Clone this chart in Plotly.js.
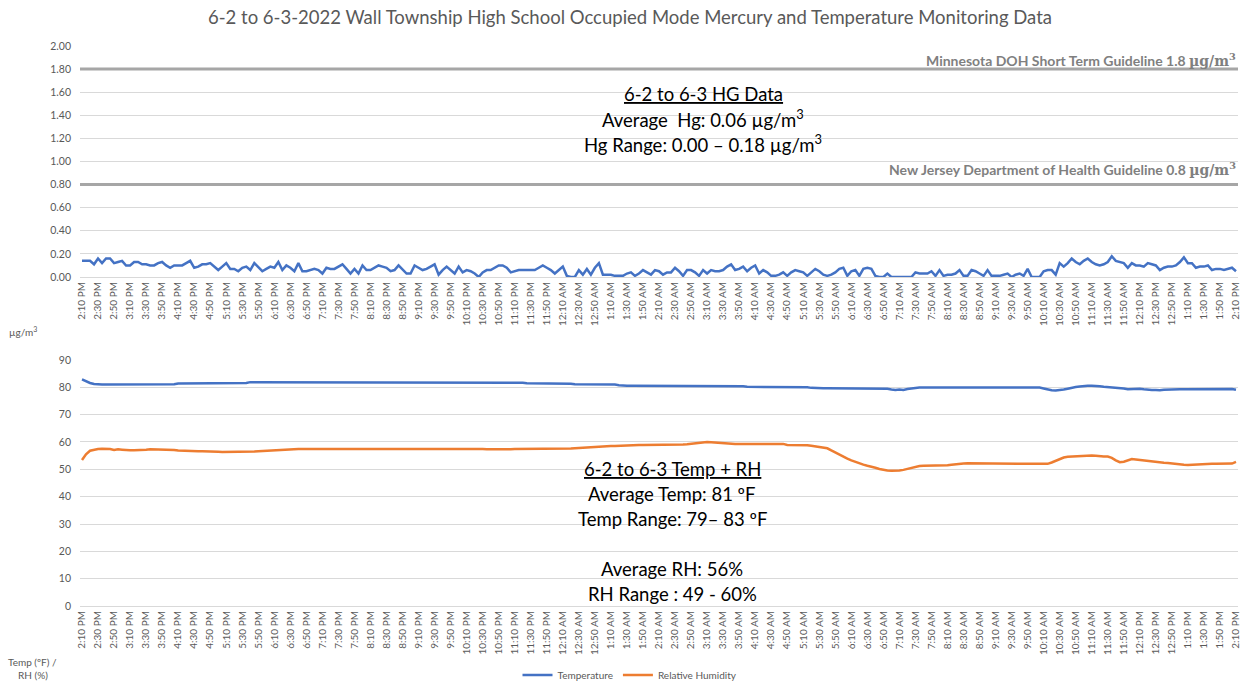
<!DOCTYPE html>
<html>
<head>
<meta charset="utf-8">
<script src="https://cdn.plot.ly/plotly-3.0.1.min.js"></script>
<style>html,body{margin:0;padding:0;background:#fff;}#chart{width:1243px;height:683px;}</style>
</head>
<body>
<div id="chart"></div>
<script>
// ---- Data (5-minute readings, 2:10 PM 6-2 to 2:10 PM 6-3) ----
const startMinutes = 14 * 60 + 10;   // 2:10 PM
const stepMinutes = 5;               // reading interval
const labelEvery = 4;                // a tick label every 20 minutes

const hg = [
  0.14,0.14,0.14,0.11,0.16,0.12,0.16,0.16,0.12,0.13,0.14,0.10,
  0.10,0.13,0.13,0.11,0.11,0.10,0.10,0.12,0.13,0.10,0.08,0.10,
  0.10,0.10,0.12,0.14,0.08,0.09,0.11,0.11,0.12,0.09,0.06,0.09,
  0.12,0.07,0.07,0.05,0.08,0.09,0.06,0.12,0.08,0.05,0.07,0.09,
  0.08,0.13,0.06,0.10,0.08,0.05,0.12,0.05,0.05,0.06,0.07,0.06,
  0.03,0.08,0.07,0.07,0.09,0.11,0.07,0.03,0.07,0.03,0.10,0.06,
  0.06,0.08,0.10,0.09,0.08,0.05,0.06,0.10,0.06,0.03,0.03,0.10,
  0.08,0.06,0.07,0.09,0.11,0.02,0.06,0.09,0.06,0.03,0.09,0.04,
  0.06,0.05,0.03,0.00,0.04,0.06,0.06,0.08,0.10,0.10,0.08,0.04,
  0.05,0.06,0.06,0.06,0.06,0.06,0.08,0.10,0.08,0.06,0.03,0.06,
  0.09,0.01,0.00,0.00,0.06,0.02,0.07,0.02,0.08,0.12,0.02,0.02,
  0.02,0.01,0.01,0.01,0.03,0.04,0.01,0.03,0.06,0.04,0.02,0.06,
  0.05,0.02,0.04,0.04,0.08,0.05,0.01,0.06,0.06,0.04,0.01,0.06,
  0.03,0.06,0.05,0.05,0.06,0.09,0.11,0.06,0.07,0.09,0.05,0.08,
  0.10,0.03,0.06,0.04,0.01,0.01,0.02,0.04,0.01,0.04,0.06,0.05,
  0.04,0.01,0.04,0.07,0.05,0.02,0.01,0.02,0.04,0.07,0.08,0.01,
  0.05,0.06,0.01,0.07,0.08,0.07,0.01,0.00,0.00,0.03,0.00,0.00,
  0.00,0.00,0.00,0.00,0.04,0.03,0.03,0.03,0.05,0.01,0.06,0.01,
  0.02,0.02,0.03,0.06,0.01,0.01,0.06,0.05,0.03,0.01,0.06,0.01,
  0.01,0.01,0.02,0.03,0.00,0.02,0.03,0.01,0.07,0.00,0.00,0.00,
  0.05,0.06,0.06,0.02,0.12,0.09,0.12,0.16,0.13,0.11,0.14,0.16,
  0.13,0.11,0.10,0.11,0.13,0.18,0.14,0.13,0.12,0.08,0.12,0.10,
  0.10,0.09,0.12,0.11,0.10,0.06,0.08,0.09,0.09,0.10,0.13,0.17,
  0.12,0.12,0.08,0.09,0.09,0.10,0.06,0.07,0.07,0.06,0.07,0.08,
  0.05
];

const temperature = [
  82.9,82.2,81.6,81.2,81.0,81.0,81.0,81.0,81.0,81.0,81.0,81.0,
  81.0,81.0,81.0,81.0,81.0,81.0,81.0,81.0,81.0,81.0,81.0,81.1,
  81.4,81.4,81.4,81.4,81.4,81.4,81.4,81.4,81.4,81.4,81.4,81.4,
  81.4,81.4,81.4,81.4,81.4,81.6,81.9,81.9,81.9,81.9,81.9,81.9,
  81.9,81.9,81.9,81.9,81.9,81.9,81.9,81.9,81.9,81.9,81.9,81.9,
  81.9,81.9,81.9,81.9,81.9,81.9,81.9,81.9,81.9,81.9,81.9,81.9,
  81.9,81.9,81.9,81.9,81.9,81.9,81.9,81.9,81.9,81.9,81.9,81.9,
  81.9,81.9,81.9,81.9,81.9,81.9,81.9,81.9,81.9,81.9,81.9,81.9,
  81.9,81.9,81.9,81.9,81.9,81.9,81.9,81.9,81.9,81.9,81.9,81.9,
  81.9,81.9,81.7,81.5,81.5,81.5,81.5,81.5,81.5,81.5,81.5,81.5,
  81.5,81.5,81.3,81.1,81.1,81.1,81.1,81.1,81.1,81.1,81.1,81.1,
  81.1,81.0,80.8,80.6,80.6,80.6,80.6,80.6,80.6,80.6,80.6,80.6,
  80.6,80.6,80.6,80.6,80.6,80.6,80.6,80.6,80.6,80.6,80.6,80.6,
  80.6,80.6,80.6,80.6,80.6,80.6,80.6,80.6,80.6,80.4,80.2,80.2,
  80.2,80.2,80.2,80.2,80.2,80.2,80.2,80.2,80.2,80.2,80.2,80.2,
  80.2,80.0,79.8,79.7,79.7,79.7,79.7,79.7,79.7,79.7,79.7,79.7,
  79.7,79.7,79.7,79.7,79.7,79.7,79.7,79.7,79.7,79.5,79.2,79.0,
  79.2,79.0,79.4,79.6,79.9,79.9,79.9,79.9,79.9,80.0,80.1,80.0,
  79.9,79.9,79.9,79.9,79.9,79.9,79.9,79.9,79.9,79.9,79.9,79.9,
  79.9,79.9,79.9,79.9,79.9,79.9,79.9,79.9,79.9,79.9,79.9,79.9,
  79.6,79.2,78.9,78.8,78.9,79.2,79.5,79.9,80.1,80.3,80.5,80.6,
  80.6,80.6,80.4,80.2,80.1,80.0,79.9,79.9,79.6,79.3,79.4,79.5,
  79.5,79.3,79.1,79.0,79.0,78.9,79.1,79.2,79.25,79.25,79.25,79.25,
  79.25,79.3,79.4,79.5,79.5,79.5,79.5,79.5,79.5,79.5,79.5,79.4,
  79.1
];

const humidity = [
  53.4,55.5,56.8,57.2,57.4,57.5,57.5,57.4,57.1,57.3,57.2,57.0,
  57.0,57.0,57.0,57.1,57.2,57.3,57.3,57.3,57.3,57.3,57.2,57.1,
  56.9,56.8,56.7,56.6,56.6,56.6,56.6,56.6,56.6,56.5,56.4,56.3,
  56.3,56.3,56.3,56.3,56.3,56.4,56.5,56.5,56.6,56.7,56.7,56.7,
  56.8,56.9,57.0,57.1,57.2,57.3,57.4,57.4,57.4,57.4,57.4,57.4,
  57.4,57.4,57.4,57.4,57.4,57.4,57.4,57.4,57.4,57.4,57.4,57.4,
  57.4,57.4,57.4,57.4,57.4,57.4,57.4,57.4,57.4,57.4,57.4,57.4,
  57.4,57.4,57.4,57.4,57.4,57.4,57.4,57.4,57.4,57.4,57.4,57.4,
  57.5,57.6,57.5,57.4,57.4,57.3,57.3,57.2,57.1,57.1,57.2,57.3,
  57.4,57.4,57.4,57.4,57.4,57.4,57.4,57.4,57.4,57.4,57.4,57.4,
  57.4,57.5,57.6,57.7,57.8,57.9,58.0,58.1,58.3,58.4,58.5,58.5,
  58.5,58.5,58.6,58.7,58.8,58.9,58.9,58.9,58.9,58.9,58.9,58.9,
  58.9,58.9,58.9,58.9,59.0,59.0,59.1,59.2,59.4,59.6,59.8,60.0,
  60.0,59.9,59.8,59.6,59.4,59.3,59.3,59.3,59.3,59.3,59.3,59.3,
  59.3,59.3,59.3,59.3,59.3,59.3,59.3,59.3,58.9,58.9,58.9,58.9,
  58.9,58.8,58.6,58.4,58.3,58.1,57.7,56.9,56.1,55.3,54.6,53.9,
  53.3,52.7,52.1,51.7,51.3,51.0,50.6,50.1,49.8,49.6,49.5,49.5,
  49.6,49.8,50.2,50.6,51.0,51.2,51.3,51.3,51.3,51.3,51.3,51.3,
  51.5,51.7,51.9,52.0,52.1,52.2,52.2,52.2,52.2,52.2,52.2,52.1,
  52.0,52.0,52.0,52.0,52.0,52.0,52.0,52.0,52.0,52.0,52.0,52.0,
  52.0,52.0,52.5,53.1,53.7,54.3,54.6,54.7,54.8,54.9,55.0,55.2,
  55.1,55.0,54.8,54.7,54.7,54.2,53.3,52.6,52.8,53.3,53.8,53.6,
  53.4,53.2,53.0,52.9,52.7,52.5,52.4,52.3,52.1,51.9,51.8,51.7,
  51.6,51.7,51.8,51.9,52.0,52.0,52.0,52.0,52.0,52.0,52.0,52.1,
  52.7
];

const guidelineMN = 1.8;
const guidelineNJ = 0.8;

// ---- Category positions and tick labels ----
function timeLabel(mins) {
  const t = ((mins % 1440) + 1440) % 1440;
  let h = Math.floor(t / 60), m = t % 60;
  const ap = h >= 12 ? "PM" : "AM";
  h = h % 12; if (h === 0) h = 12;
  return h + ":" + String(m).padStart(2, "0") + " " + ap;
}
const xIndex = hg.map((_, i) => i);
const tickVals = xIndex.filter(i => i % labelEvery === 0);
const tickLabels = tickVals.map(i => timeLabel(startMinutes + i * stepMinutes));

const BLUE = "#4472C4", ORANGE = "#ED7D31", GRID = "#d9d9d9", TXT = "#595959";
const FONT = "Lato, 'Open Sans', sans-serif";

const traces = [
  {x: xIndex, y: hg, type: "scatter", mode: "lines", name: "Hg",
   line: {color: BLUE, width: 2.5}, xaxis: "x", yaxis: "y", showlegend: false, hoverinfo: "skip"},
  {x: xIndex, y: temperature, type: "scatter", mode: "lines", name: "Temperature",
   line: {color: BLUE, width: 2.5}, xaxis: "x2", yaxis: "y2", hoverinfo: "skip"},
  {x: xIndex, y: humidity, type: "scatter", mode: "lines", name: "Relative Humidity",
   line: {color: ORANGE, width: 2.5}, xaxis: "x2", yaxis: "y2", hoverinfo: "skip"}
];

const xCommon = {
  range: [-0.5, xIndex.length - 0.5], tickmode: "array", tickvals: tickVals, ticktext: tickLabels,
  tickangle: -90, tickfont: {family: FONT, size: 10, color: TXT}, showgrid: false, automargin: false,
  zeroline: false, showline: true, linecolor: GRID, linewidth: 1, ticks: "", fixedrange: true
};
const yCommon = {
  showgrid: true, gridcolor: GRID, gridwidth: 1, zeroline: false, showline: false, ticks: "", automargin: false,
  tickfont: {family: FONT, size: 10.5, color: TXT}, ticklabelstandoff: 8, fixedrange: true
};

function pxX(px) { return (px - 80) / 1158; }
function pxY(py) { return (606 - py) / 560; }

const centerFont = {family: FONT, size: 18.5, color: "#000"};
const guideFont = {family: FONT, size: 14, color: "#7f7f7f"};
const unitSpan = s => "<span style=\"font-family:'DejaVu Serif','Liberation Serif',serif;\">" + s + "</span>";

function ann(px, py, text, font, xanchor) {
  return {xref: "paper", yref: "paper", x: pxX(px), y: pxY(py), xanchor: xanchor || "center",
          yanchor: "middle", showarrow: false, text: text, font: font};
}
const smallFont = {family: FONT, size: 10, color: TXT};

const annotations = [
  ann(1238, 60, "<b>Minnesota DOH Short Term Guideline " + guidelineMN + " " + unitSpan("µg/m<sup>3</sup>") + "</b>", guideFont, "right"),
  ann(1238, 169, "<b>New Jersey Department of Health Guideline " + guidelineNJ + " " + unitSpan("µg/m<sup>3</sup>") + "</b>", guideFont, "right"),

  ann(703, 94, "<u>6-2 to 6-3 HG Data</u>", centerFont),
  ann(703, 119, "Average  Hg: 0.06 µg/m<sup>3</sup>", centerFont),
  ann(703, 143, "Hg Range: 0.00 – 0.18 µg/m<sup>3</sup>", centerFont),

  ann(672, 469, "<u>6-2 to 6-3 Temp + RH</u>", centerFont),
  ann(672, 494, "Average Temp: 81 ºF", centerFont),
  ann(672, 519, "Temp Range: 79– 83 ºF", centerFont),
  ann(672, 569, "Average RH: 56%", centerFont),
  ann(672, 594, "RH Range : 49 - 60%", centerFont),

  ann(23, 331, "µg/m<sup>3</sup>", smallFont),
  ann(33, 662, "Temp (ºF) /", smallFont),
  ann(33, 675, "RH (%)", smallFont)
];

const shapes = [
  {type: "line", xref: "x domain", x0: 0, x1: 1, yref: "y", y0: guidelineMN, y1: guidelineMN,
   line: {color: "#a6a6a6", width: 3}},
  {type: "line", xref: "x domain", x0: 0, x1: 1, yref: "y", y0: guidelineNJ, y1: guidelineNJ,
   line: {color: "#a6a6a6", width: 3}}
];

const layout = {
  width: 1243, height: 683,
  margin: {l: 80, r: 5, t: 46, b: 77, autoexpand: false},
  paper_bgcolor: "#fff", plot_bgcolor: "#fff",
  title: {text: "6-2 to 6-3-2022 Wall Township High School Occupied Mode Mercury and Temperature Monitoring Data",
          font: {family: FONT, size: 18.5, color: TXT}, x: 630 / 1243, xanchor: "center",
          yref: "container", y: 1 - 18 / 683, yanchor: "middle"},
  xaxis: Object.assign({}, xCommon, {anchor: "y", domain: [0, 1]}),
  xaxis2: Object.assign({}, xCommon, {anchor: "y2", domain: [0, 1]}),
  yaxis: Object.assign({}, yCommon, {domain: [0.5875, 1], range: [0, 2], dtick: 0.2, tickformat: ".2f"}),
  yaxis2: Object.assign({}, yCommon, {domain: [0, 0.4393], range: [0, 90], dtick: 10}),
  showlegend: true,
  legend: {orientation: "h", xref: "paper", x: pxX(630), xanchor: "center",
           yref: "container", y: (683 - 675) / 683, yanchor: "middle",
           font: {family: FONT, size: 10, color: TXT}, bgcolor: "rgba(0,0,0,0)"},
  annotations: annotations,
  shapes: shapes
};

Plotly.newPlot("chart", traces, layout, {staticPlot: true, displayModeBar: false});
</script>
</body>
</html>
